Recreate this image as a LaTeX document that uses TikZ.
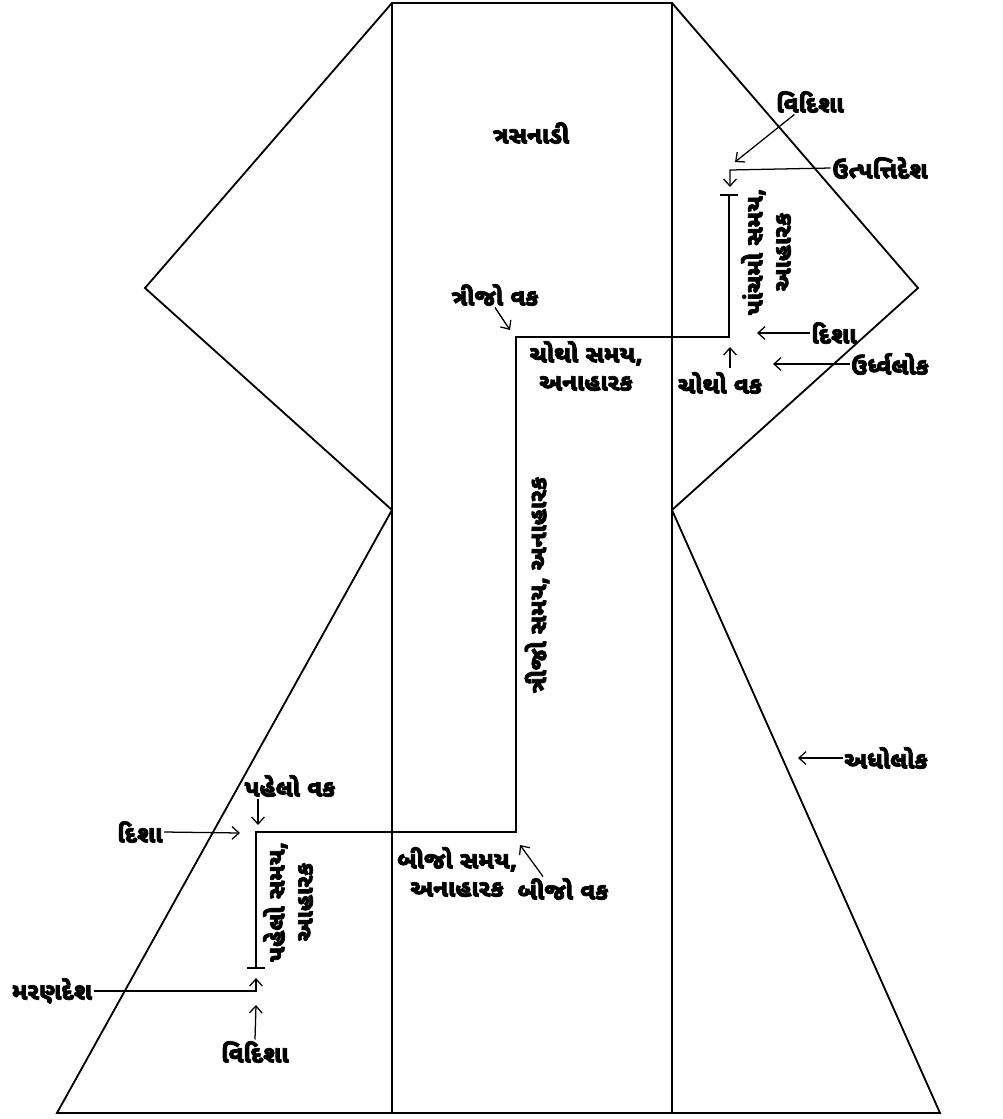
\documentclass[tikz,border=0pt]{standalone}
\usepackage{fontspec}
\usetikzlibrary{arrows.meta}
\newfontfamily\gujfont[Script=Gujarati,FakeBold=3]{Noto Sans Gujarati UI}
\tikzset{
  lbl/.style={font=\gujfont\bfseries\fontsize{17}{20}\selectfont,inner sep=1pt},
  twoline/.style={lbl,align=center},
  turned/.style={twoline,rotate=90},
  wall/.style={line width=1.3pt},
  route/.style={line width=1.3pt},
  pointer/.style={-{Straight Barb[length=5pt,width=9pt]},line width=0.9pt}
}
\begin{document}
\begin{tikzpicture}[x=0.025cm,y=-0.025cm]
  \useasboundingbox (0,0) rectangle (1002,1119);
  \draw[wall] (392,3) -- (145,288) -- (392,510) -- (57,1113)
    -- (940,1113) -- (672,510) -- (918,288) -- (672,3) -- cycle;
  \draw[wall] (392,3) -- (392,1113);
  \draw[wall] (672,3) -- (672,1113);
  % path of the jiva
  \coordinate (m0) at (256,968);
  \coordinate (v1) at (256,832);
  \coordinate (v2) at (516,832);
  \coordinate (v3) at (516,337);
  \coordinate (v4) at (729,337);
  \coordinate (u0) at (729,195);
  \draw[route] (m0) -- (v1) -- (v2) -- (v3) -- (v4) -- (u0);
  \draw[route] (m0) ++(-9,0) -- ++(18,0);
  \draw[route] (u0) ++(-9,0) -- ++(18,0);
  \draw
    (531,133) node[lbl] (trasa){ત્રસનાડી}
    (810,102) node[lbl] (vid1){વિદિશા}
    (880,168) node[lbl] (utp){ઉત્પત્તિદેશ}
    (766,252) node[turned] (t5){પાંચમો સમય,\\આહારક}
    (834,333) node[lbl] (dis1){દિશા}
    (890,364) node[lbl] (urdh){ઉર્ધ્વલોક}
    (720,383) node[lbl] (vak4){ચોથો વક}
    (495,295) node[lbl] (vak3){ત્રીજો વક}
    (586,366) node[twoline] (t4){ચોથો સમય,\\અનાહારક}
    (537,585) node[turned] (t3){ત્રીજો સમય, અનાહારક}
    (886,758) node[lbl] (adho){અધોલોક}
    (290,786) node[lbl] (vak1){પહેલો વક}
    (140,832) node[lbl] (dis2){દિશા}
    (288,902) node[turned] (t1){પહેલો સમય,\\આહારક}
    (457,872) node[twoline] (t2){બીજો સમય,\\અનાહારક}
    (563,889) node[lbl] (vak2){બીજો વક}
    (52,991) node[lbl] (maran){મરણદેશ}
    (255,1052) node[lbl] (vid2){વિદિશા};
  \begin{scope}[pointer]
    \draw (vid1) -- (735,162);
    \draw (utp.west) -- (730,170) -- (730,187);
    \draw (dis1.west) -- (757,333);
    \draw (urdh.west) -- (773,364);
    \draw (vak4.north -| 730,0) ++(0,-2) -- (730,347);
    \draw (vak3.south) -- (510,330);
    \draw (adho.west) -- (798,758);
    \draw (vak1.south -| 258,0) -- (258,825);
    \draw (dis2.east) -- (240,833);
    \draw (vak2.north -| 543,0) -- (520,845);
    \draw (maran.east) -- (256,991) -- (256,978);
    \draw (vid2.north) -- (256,1005);
  \end{scope}
\end{tikzpicture}
\end{document}
